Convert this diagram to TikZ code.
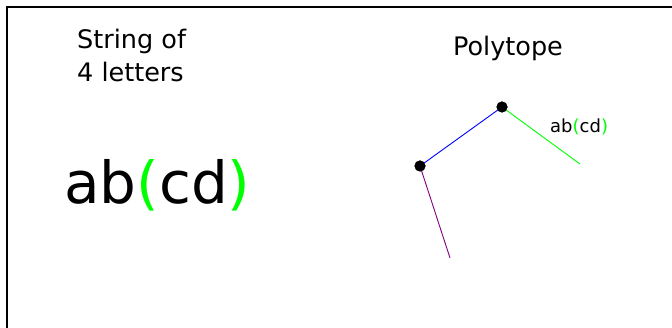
\documentclass[tikz,border=0pt]{standalone}
\usepackage{fontspec}
\setmainfont{DejaVu Sans}
\definecolor{lgreen}{RGB}{0,255,0}
\definecolor{lblue}{RGB}{0,0,255}
\definecolor{lpurple}{RGB}{128,0,128}
\tikzset{
  vert/.style={circle,fill=black,inner sep=0pt,minimum size=11pt},
  edge/.style={line width=0.9pt},
  txt/.style={inner sep=0pt}
}
\begin{document}
\begin{tikzpicture}[x=1pt,y=-1pt]
\clip (0,0) rectangle (672,328);
\fill[white] (0,0) rectangle (672,328);
\draw[line width=1.5pt] (7,7) rectangle (700,360);
\node[txt,anchor=base west,font=\fontsize{25.5}{30}\selectfont] (s1) at (77,49) {String of};
\node[txt,anchor=base west,font=\fontsize{25.5}{30}\selectfont] (s2) at (77,82) {4 letters};
\node[txt,anchor=base,font=\fontsize{25.5}{30}\selectfont] (poly) at (508,56) {Polytope};
\node[txt,anchor=base west,font=\fontsize{58}{62}\selectfont] (big) at (64,204) {ab{\color{lgreen}(}cd{\color{lgreen})}};
\node[txt,anchor=base west,font=\fontsize{18}{20}\selectfont] (small) at (550,133) {ab{\color{lgreen}(}cd{\color{lgreen})}};
\coordinate (ge) at (580,164);
\coordinate (pe) at (450,258);
\node[vert] (top) at (502,107) {};
\node[vert] (left) at (420,166) {};
\draw[edge,lblue] (left.center) -- (top.center);
\draw[edge,lgreen] (top.center) -- (ge);
\draw[edge,lpurple] (left.center) -- (pe);
\node[vert] at (top.center) {};
\node[vert] at (left.center) {};
\end{tikzpicture}
\end{document}
